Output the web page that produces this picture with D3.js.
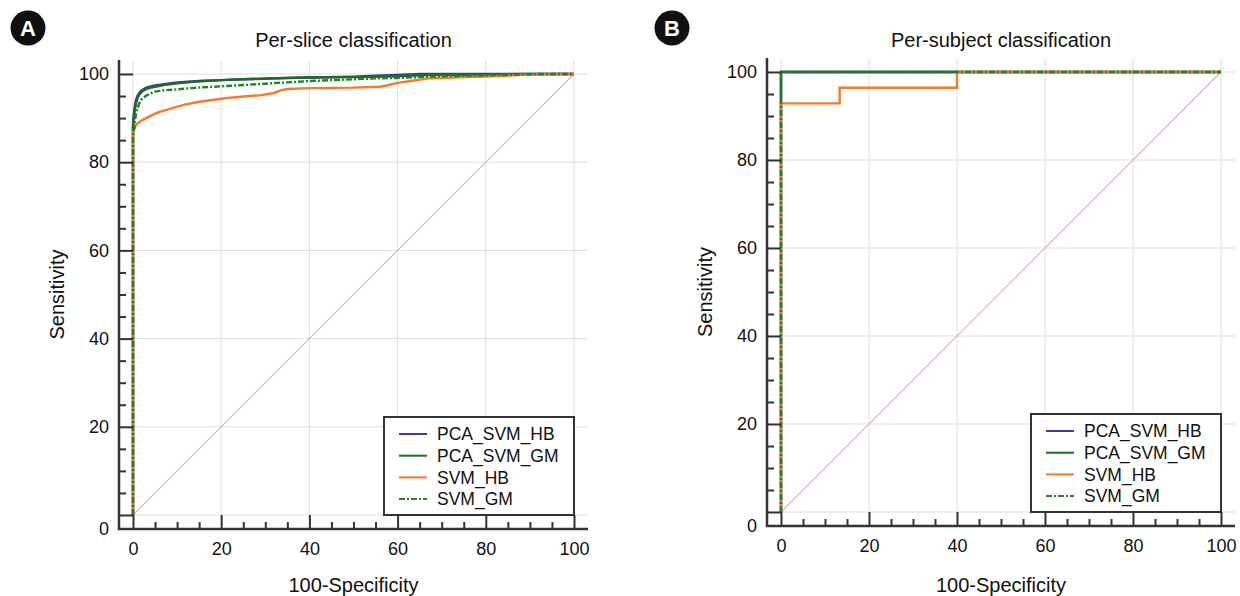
<!DOCTYPE html>
<html>
<head>
<meta charset="utf-8">
<script src="https://cdn.jsdelivr.net/npm/d3@7"></script>
<style>
  body { margin: 0; background: #fff; }
  text { font-family: "Liberation Sans", Arial, sans-serif; fill: #111; }
</style>
</head>
<body>
<svg id="chart" width="1240" height="596"></svg>
<script>
// series names, as in the legends
const seriesNames = ['PCA_SVM_HB', 'PCA_SVM_GM', 'SVM_HB', 'SVM_GM'];

// axis ticks (both axes, both panels)
const majorTicks = [0, 20, 40, 60, 80, 100];
const minorTicks = [5, 10, 15, 25, 30, 35, 45, 50, 55, 65, 70, 75, 85, 90, 95];

// panel A, per-slice ROC points: [100-Specificity, Sensitivity]
const slicePcaHb = [[0,0],[0,89],[0.3,92],[0.6,93.8],[1,95],[1.5,95.8],[2,96.3],[3,96.9],[4,97.2],[5,97.4],[7,97.7],[10,98.1],[15,98.4],[20,98.6],[25,98.8],[30,99],[40,99.2],[50,99.4],[55,99.6],[60,99.8],[65,100],[100,100]];
const slicePcaGm = [[0,0],[0,88],[0.3,91],[0.6,93],[1,94.5],[1.5,95.4],[2,96],[3,96.6],[4,96.9],[5,97.1],[7,97.5],[10,97.9],[13,98.2],[16,98.4],[20,98.6],[25,98.8],[30,98.9],[35,99.1],[40,99.2],[50,99.3],[60,99.5],[65,99.7],[70,99.8],[80,99.9],[90,100],[100,100]];
const sliceSvmHb = [[0,0],[0,86.5],[0.3,87.5],[0.6,88.3],[1,88.8],[2,89.5],[3,90],[4,90.5],[5,91],[6,91.4],[8,92],[10,92.6],[12,93.1],[15,93.7],[18,94.1],[21,94.5],[25,94.9],[29,95.2],[32,95.7],[33.5,96.3],[35,96.6],[40,96.8],[50,96.9],[56,97.1],[58,97.5],[60,98],[63,98.4],[67,99],[72,99.2],[80,99.4],[88,99.8],[95,100],[100,100]];
const sliceSvmGm = [[0,0],[0,86],[0.3,88],[0.6,90.5],[1,92.3],[1.5,93.5],[2,94.3],[3,95.1],[4,95.6],[5,96],[7,96.3],[10,96.5],[13,96.8],[16,97],[20,97.2],[25,97.5],[30,97.8],[35,98.1],[40,98.4],[45,98.6],[50,98.8],[55,99],[60,99.1],[67,99.4],[75,99.6],[85,99.8],[92,100],[100,100]];

// panel B, per-subject ROC points
const subjectPcaHb = [[0,0],[0,100],[100,100]];
const subjectPcaGm = [[0,0],[0,100],[100,100]];
const subjectSvmHb = [[0,0],[0,92.86],[13.33,92.86],[13.33,96.43],[40,96.43],[40,100],[100,100]];
const subjectSvmGm = [[0,0],[0,100],[100,100]];

// reference diagonal
const chanceLine = [[0,0],[100,100]];

const colors = ['#3d3d9e', '#1f6b26', '#f47a2c', '#2a7d2a'];
const dashes = [null, null, null, '6,2,2,2'];

const svg = d3.select('#chart');

function drawPanel(opts) {
  const { left, top, size, title, tag, tagX, curves } = opts;
  const off = 14;
  const x = d3.scaleLinear().domain([0, 100]).range([left, left + size]);
  const y = d3.scaleLinear().domain([0, 100]).range([top + size, top]);
  const axisX = left - off,
        axisY = top + size + off,
        topEdge = top - off,
        rightEdge = left + size + off;

  const g = svg.append('g');

  // grid
  g.append('g').selectAll('line')
    .data(majorTicks)
    .join('line')
    .attr('x1', axisX).attr('x2', rightEdge)
    .attr('y1', (d) => y(d)).attr('y2', (d) => y(d))
    .attr('stroke', '#dedede').attr('stroke-width', 1);
  g.append('g').selectAll('line')
    .data(majorTicks)
    .join('line')
    .attr('y1', topEdge).attr('y2', axisY)
    .attr('x1', (d) => x(d)).attr('x2', (d) => x(d))
    .attr('stroke', '#dedede').attr('stroke-width', 1);

  const line = d3.line()
    .x((d) => x(d[0]))
    .y((d) => y(d[1]));

  g.append('path')
    .attr('d', line(chanceLine))
    .attr('fill', 'none')
    .attr('stroke', '#d8b6b6')
    .attr('stroke-width', 1.2);

  g.append('g').selectAll('path')
    .data(curves)
    .join('path')
    .attr('d', (d) => line(d))
    .attr('fill', 'none')
    .attr('stroke', (d, i) => colors[i])
    .attr('stroke-width', 2.4)
    .attr('stroke-dasharray', (d, i) => dashes[i]);

  // axes, ticks point inward; minor ticks get their own groups
  const yAxis = g.append('g').attr('transform', `translate(${axisX},0)`);
  yAxis.call(d3.axisLeft(y).tickValues(majorTicks).tickSize(-off).tickPadding(10));
  yAxis.selectAll('.tick').filter((d) => d === 0).select('text').attr('y', off);
  g.append('g')
    .attr('transform', `translate(${axisX},0)`)
    .call(d3.axisLeft(y).tickValues(minorTicks).tickSize(-7).tickFormat(''));

  g.append('g')
    .attr('transform', `translate(0,${axisY})`)
    .call(d3.axisBottom(x).tickValues(majorTicks).tickSize(-off).tickPadding(13));
  g.append('g')
    .attr('transform', `translate(0,${axisY})`)
    .call(d3.axisBottom(x).tickValues(minorTicks).tickSize(-7).tickFormat(''));

  g.selectAll('.domain').remove();
  g.selectAll('.tick line').attr('stroke', '#333').attr('stroke-width', 2);
  g.selectAll('.tick text')
    .style('font-family', '"Liberation Sans", Arial, sans-serif')
    .style('font-size', '18px')
    .attr('fill', '#111');

  g.append('path')
    .attr('d', `M${axisX},${topEdge}V${axisY}H${rightEdge}`)
    .attr('fill', 'none')
    .attr('stroke', '#333')
    .attr('stroke-width', 2.5);

  // legend, anchored at the bottom-right of the data area
  const lw = 190, lh = 98;
  const lx = x(100) - lw, ly = y(0) - lh;
  const legend = g.append('g');
  legend.append('rect')
    .attr('x', lx).attr('y', ly)
    .attr('width', lw).attr('height', lh)
    .attr('fill', '#fff')
    .attr('stroke', '#333')
    .attr('stroke-width', 2);
  const rows = legend.selectAll('g.row')
    .data(seriesNames)
    .join('g')
    .attr('class', 'row')
    .attr('transform', (d, i) => `translate(${lx},${ly + 17 + i * 21.7})`);
  rows.append('line')
    .attr('x1', 15).attr('x2', 43)
    .attr('stroke', (d, i) => colors[i])
    .attr('stroke-width', 2)
    .attr('stroke-dasharray', (d, i) => dashes[i]);
  rows.append('text')
    .attr('x', 53)
    .attr('dy', '0.35em')
    .style('font-size', '17.5px')
    .text((d) => d);

  // titles
  g.append('text')
    .attr('x', x(50)).attr('y', 47)
    .attr('text-anchor', 'middle')
    .style('font-size', '20px')
    .text(title);
  g.append('text')
    .attr('x', x(50)).attr('y', 592)
    .attr('text-anchor', 'middle')
    .style('font-size', '20px')
    .text('100-Specificity');
  g.append('text')
    .attr('transform', `translate(${axisX - 55},${y(50)}) rotate(-90)`)
    .attr('text-anchor', 'middle')
    .style('font-size', '20px')
    .text('Sensitivity');

  // panel letter
  g.append('circle')
    .attr('cx', tagX).attr('cy', 28).attr('r', 17.5)
    .attr('fill', '#111');
  g.append('text')
    .attr('x', tagX).attr('y', 28)
    .attr('dy', '0.36em')
    .attr('text-anchor', 'middle')
    .style('font-size', '22px')
    .style('font-weight', 'bold')
    .style('fill', '#fff')
    .text(tag);
}

drawPanel({
  left: 133, top: 74, size: 441,
  title: 'Per-slice classification',
  tag: 'A', tagX: 28,
  curves: [slicePcaHb, slicePcaGm, sliceSvmHb, sliceSvmGm],
});

drawPanel({
  left: 781, top: 72, size: 440,
  title: 'Per-subject classification',
  tag: 'B', tagX: 672,
  curves: [subjectPcaHb, subjectPcaGm, subjectSvmHb, subjectSvmGm],
});
</script>
</body>
</html>
